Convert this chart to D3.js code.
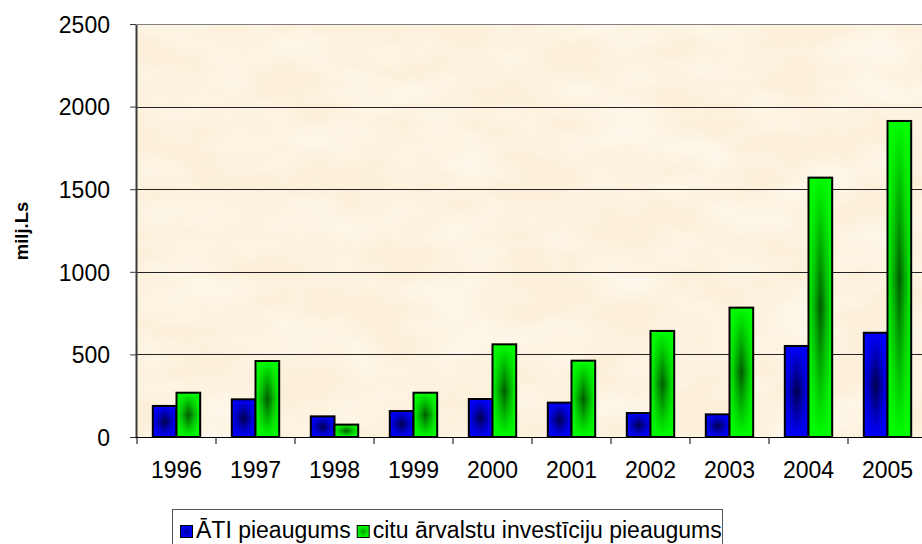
<!DOCTYPE html>
<html>
<head>
<meta charset="utf-8">
<script src="https://cdn.jsdelivr.net/npm/d3@7"></script>
<style>
  html, body { margin: 0; padding: 0; background: #ffffff; }
  svg { display: block; font-family: "Liberation Sans", Arial, sans-serif; }
</style>
</head>
<body>
<svg id="chart" width="922" height="544"></svg>
<script>
// ---------- data ----------
const years = ["1996", "1997", "1998", "1999", "2000", "2001", "2002", "2003", "2004", "2005"];
const seriesNames = ["ĀTI pieaugums", "citu ārvalstu investīciju pieaugums"];
const atiValues = [188, 228, 125, 157, 230, 208, 145, 137, 551, 631];
const otherValues = [268, 460, 75, 268, 561, 462, 642, 783, 1570, 1913];
const yTickValues = [0, 500, 1000, 1500, 2000, 2500];
const yTitle = "milj.Ls";

// ---------- layout ----------
const plotLeft = 137, plotRight = 927, plotTop = 24, plotBottom = 437;
const FS = 23;
const svg = d3.select("#chart");

const x = d3.scaleBand().domain(years).range([plotLeft, plotRight]).paddingInner(0).paddingOuter(0);
const xs = d3.scaleBand().domain([0, 1]).range([0, x.bandwidth()]).paddingInner(0).paddingOuter(0.667);
const y = d3.scaleLinear().domain([0, 2500]).range([plotBottom, plotTop]);

const colors = [
  { bright: "#0000ff", dark: "#00004a" },
  { bright: "#00ff00", dark: "#005a00" }
];

// ---------- defs ----------
const defs = svg.append("defs");
const paper = defs.append("filter").attr("id", "paper").attr("x", 0).attr("y", 0).attr("width", 1).attr("height", 1);
paper.append("feTurbulence").attr("type", "fractalNoise").attr("baseFrequency", "0.012 0.025").attr("numOctaves", 3).attr("seed", 7);
paper.append("feColorMatrix").attr("type", "matrix")
  .attr("values", "0 0 0 0 1  0 0 0 0 0.99  0 0 0 0 0.96  1.4 0 0 0 -0.5");

colors.forEach((c, i) => {
  const g = defs.append("linearGradient").attr("id", "hdark" + i).attr("x1", 0).attr("x2", 1).attr("y1", 0).attr("y2", 0);
  g.append("stop").attr("offset", 0).attr("stop-color", c.dark).attr("stop-opacity", 0);
  g.append("stop").attr("offset", 0.5).attr("stop-color", c.dark).attr("stop-opacity", 1);
  g.append("stop").attr("offset", 1).attr("stop-color", c.dark).attr("stop-opacity", 0);
});
const vg = defs.append("linearGradient").attr("id", "vmaskgrad").attr("x1", 0).attr("x2", 0).attr("y1", 0).attr("y2", 1);
vg.append("stop").attr("offset", 0).attr("stop-color", "#000");
vg.append("stop").attr("offset", 0.5).attr("stop-color", "#fff");
vg.append("stop").attr("offset", 1).attr("stop-color", "#000");
defs.append("mask").attr("id", "vmask").attr("maskContentUnits", "objectBoundingBox")
  .attr("x", 0).attr("y", 0).attr("width", 1).attr("height", 1)
  .append("rect").attr("width", 1).attr("height", 1).attr("fill", "url(#vmaskgrad)");

// ---------- plot background ----------
svg.append("rect").attr("x", plotLeft).attr("y", plotTop)
  .attr("width", plotRight - plotLeft).attr("height", plotBottom - plotTop).attr("fill", "#fcf0da");
svg.append("rect").attr("x", plotLeft).attr("y", plotTop)
  .attr("width", plotRight - plotLeft).attr("height", plotBottom - plotTop)
  .attr("fill", "#fff").attr("filter", "url(#paper)").attr("opacity", 0.8);

// ---------- gridlines ----------
svg.append("g").selectAll("line").data(yTickValues.filter(v => v > 0)).join("line")
  .attr("x1", plotLeft).attr("x2", plotRight)
  .attr("y1", d => Math.round(y(d)) + 0.5).attr("y2", d => Math.round(y(d)) + 0.5)
  .attr("stroke", d => d === 2500 ? "#808080" : "#222").attr("stroke-width", 1);

// ---------- bars ----------
const rows = years.map((yr, i) => ({ year: yr, vals: [atiValues[i], otherValues[i]] }));
const groups = svg.append("g").selectAll("g").data(rows).join("g")
  .attr("transform", d => `translate(${x(d.year)},0)`);
const bars = groups.selectAll("g").data(d => d.vals.map((v, k) => ({ v, k }))).join("g");
bars.append("rect")
  .attr("x", d => xs(d.k)).attr("y", d => y(d.v))
  .attr("width", xs.bandwidth()).attr("height", d => y(0) - y(d.v))
  .attr("fill", d => colors[d.k].bright);
bars.append("rect")
  .attr("x", d => xs(d.k)).attr("y", d => y(d.v))
  .attr("width", xs.bandwidth()).attr("height", d => y(0) - y(d.v))
  .attr("fill", d => `url(#hdark${d.k})`).attr("mask", "url(#vmask)");
bars.append("rect")
  .attr("x", d => xs(d.k)).attr("y", d => y(d.v))
  .attr("width", xs.bandwidth()).attr("height", d => y(0) - y(d.v))
  .attr("fill", "none").attr("stroke", "#000").attr("stroke-width", 2);

// ---------- axes ----------
const yAxis = svg.append("g").attr("transform", `translate(136,0)`)
  .call(d3.axisLeft(y).tickValues(yTickValues).tickFormat(d3.format("d")).tickSize(6).tickSizeOuter(0));
yAxis.select(".domain").attr("stroke", "#3a3a3a").attr("stroke-width", 2);
yAxis.selectAll(".tick line").attr("stroke", "#3a3a3a").attr("stroke-width", 1);
yAxis.selectAll(".tick text").attr("x", -26).attr("dy", "0.36em")
  .attr("font-size", FS).attr("fill", "#000").attr("font-family", "Liberation Sans, Arial, sans-serif");

const xAxis = svg.append("g").attr("transform", `translate(0,${plotBottom})`)
  .call(d3.axisBottom(x).tickSize(0).tickSizeOuter(0));
xAxis.select(".domain").remove();
xAxis.selectAll(".tick text").attr("y", 41).attr("dy", 0)
  .attr("font-size", FS).attr("fill", "#000").attr("font-family", "Liberation Sans, Arial, sans-serif");
svg.append("line").attr("x1", 135).attr("x2", plotRight)
  .attr("y1", plotBottom + 0.5).attr("y2", plotBottom + 0.5).attr("stroke", "#000");
svg.append("g").selectAll("line").data(years.concat(["end"])).join("line")
  .attr("x1", d => d === "end" ? plotRight : x(d)).attr("x2", d => d === "end" ? plotRight : x(d))
  .attr("y1", plotBottom).attr("y2", plotBottom + 7).attr("stroke", "#000");

// ---------- y title ----------
svg.append("text").attr("transform", "translate(28,231) rotate(-90)")
  .attr("text-anchor", "middle").attr("font-weight", "bold").attr("font-size", 18.5)
  .text(yTitle);

// ---------- legend ----------
const legend = svg.append("g");
legend.append("rect").attr("x", 172.5).attr("y", 509.5).attr("width", 550).attr("height", 40)
  .attr("fill", "#fff").attr("stroke", "#555");
let lx = 180;
seriesNames.forEach((name, i) => {
  legend.append("rect").attr("x", lx + 0.5).attr("y", 525.5).attr("width", 12).attr("height", 12)
    .attr("fill", colors[i].bright).attr("stroke", "#000");
  legend.append("rect").attr("x", lx + 0.5).attr("y", 525.5).attr("width", 12).attr("height", 12)
    .attr("fill", `url(#hdark${i})`).attr("mask", "url(#vmask)").attr("opacity", 0.6);
  const t = legend.append("text").attr("x", lx + 16).attr("y", 538).attr("font-size", FS)
    .attr("textLength", null).text(name);
  lx = lx + 16 + t.node().getComputedTextLength() + 6;
});
</script>
</body>
</html>
